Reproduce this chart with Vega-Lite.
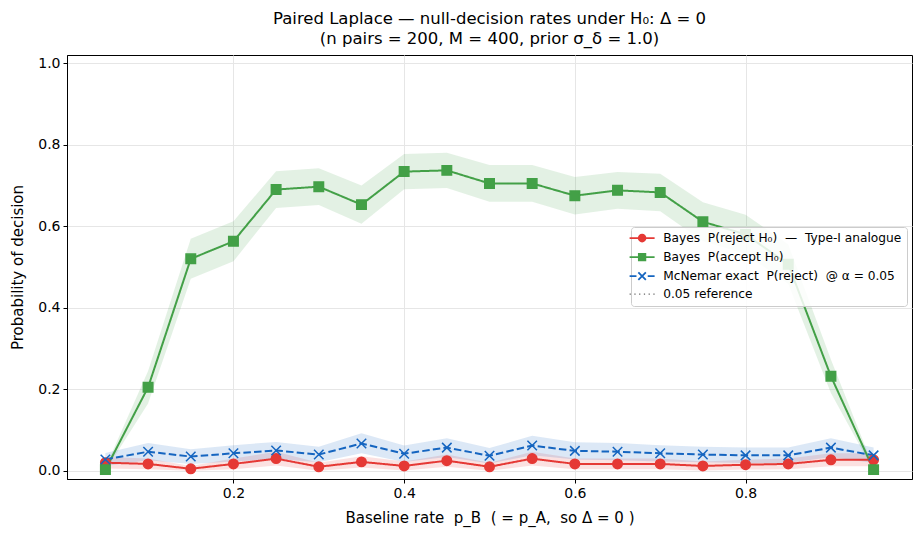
{
  "$schema": "https://vega.github.io/schema/vega-lite/v6.json",
  "width": 845,
  "height": 424,
  "autosize": {"type": "none"},
  "padding": {"left": 67, "top": 55, "right": 11, "bottom": 59},
  "background": "white",
  "title": {
    "text": ["Paired Laplace — null-decision rates under H₀: Δ = 0", "(n pairs = 200, M = 400, prior σ_δ = 1.0)"],
    "font": "DejaVu Sans",
    "fontSize": 16.5,
    "fontWeight": "normal",
    "color": "black",
    "lineHeight": 20,
    "anchor": "middle",
    "frame": "group",
    "offset": 8
  },
  "config": {
    "view": {"stroke": "black", "strokeWidth": 1},
    "axis": {
      "labelFont": "DejaVu Sans",
      "labelFontSize": 14,
      "labelColor": "black",
      "titleFont": "DejaVu Sans",
      "titleFontSize": 15,
      "titleFontWeight": "normal",
      "titleColor": "black",
      "tickColor": "black",
      "tickSize": 4,
      "tickWidth": 1,
      "labelPadding": 3,
      "domainColor": "black",
      "domainWidth": 1,
      "gridColor": "#e6e6e6",
      "gridWidth": 1
    }
  },
  "data": {
    "values": [
      {"p": 0.05, "s": "rej", "rate": 0.020, "lo": 0.006, "hi": 0.034},
      {"p": 0.10, "s": "rej", "rate": 0.017, "lo": 0.004, "hi": 0.030},
      {"p": 0.15, "s": "rej", "rate": 0.005, "lo": 0.000, "hi": 0.012},
      {"p": 0.20, "s": "rej", "rate": 0.017, "lo": 0.004, "hi": 0.030},
      {"p": 0.25, "s": "rej", "rate": 0.030, "lo": 0.013, "hi": 0.047},
      {"p": 0.30, "s": "rej", "rate": 0.010, "lo": 0.000, "hi": 0.020},
      {"p": 0.35, "s": "rej", "rate": 0.022, "lo": 0.008, "hi": 0.036},
      {"p": 0.40, "s": "rej", "rate": 0.012, "lo": 0.001, "hi": 0.023},
      {"p": 0.45, "s": "rej", "rate": 0.025, "lo": 0.010, "hi": 0.040},
      {"p": 0.50, "s": "rej", "rate": 0.010, "lo": 0.000, "hi": 0.020},
      {"p": 0.55, "s": "rej", "rate": 0.030, "lo": 0.013, "hi": 0.047},
      {"p": 0.60, "s": "rej", "rate": 0.017, "lo": 0.004, "hi": 0.030},
      {"p": 0.65, "s": "rej", "rate": 0.017, "lo": 0.004, "hi": 0.030},
      {"p": 0.70, "s": "rej", "rate": 0.017, "lo": 0.004, "hi": 0.030},
      {"p": 0.75, "s": "rej", "rate": 0.012, "lo": 0.001, "hi": 0.023},
      {"p": 0.80, "s": "rej", "rate": 0.015, "lo": 0.003, "hi": 0.027},
      {"p": 0.85, "s": "rej", "rate": 0.017, "lo": 0.004, "hi": 0.030},
      {"p": 0.90, "s": "rej", "rate": 0.027, "lo": 0.011, "hi": 0.043},
      {"p": 0.95, "s": "rej", "rate": 0.027, "lo": 0.011, "hi": 0.043},
      {"p": 0.05, "s": "acc", "rate": 0.003, "lo": 0.000, "hi": 0.008},
      {"p": 0.10, "s": "acc", "rate": 0.205, "lo": 0.165, "hi": 0.245},
      {"p": 0.15, "s": "acc", "rate": 0.520, "lo": 0.471, "hi": 0.569},
      {"p": 0.20, "s": "acc", "rate": 0.563, "lo": 0.514, "hi": 0.612},
      {"p": 0.25, "s": "acc", "rate": 0.690, "lo": 0.645, "hi": 0.735},
      {"p": 0.30, "s": "acc", "rate": 0.697, "lo": 0.652, "hi": 0.742},
      {"p": 0.35, "s": "acc", "rate": 0.653, "lo": 0.606, "hi": 0.700},
      {"p": 0.40, "s": "acc", "rate": 0.734, "lo": 0.691, "hi": 0.777},
      {"p": 0.45, "s": "acc", "rate": 0.737, "lo": 0.694, "hi": 0.780},
      {"p": 0.50, "s": "acc", "rate": 0.705, "lo": 0.660, "hi": 0.750},
      {"p": 0.55, "s": "acc", "rate": 0.705, "lo": 0.660, "hi": 0.750},
      {"p": 0.60, "s": "acc", "rate": 0.675, "lo": 0.629, "hi": 0.721},
      {"p": 0.65, "s": "acc", "rate": 0.688, "lo": 0.643, "hi": 0.733},
      {"p": 0.70, "s": "acc", "rate": 0.683, "lo": 0.637, "hi": 0.729},
      {"p": 0.75, "s": "acc", "rate": 0.611, "lo": 0.563, "hi": 0.659},
      {"p": 0.80, "s": "acc", "rate": 0.580, "lo": 0.532, "hi": 0.628},
      {"p": 0.85, "s": "acc", "rate": 0.507, "lo": 0.458, "hi": 0.556},
      {"p": 0.90, "s": "acc", "rate": 0.232, "lo": 0.191, "hi": 0.273},
      {"p": 0.95, "s": "acc", "rate": 0.003, "lo": 0.000, "hi": 0.008},
      {"p": 0.05, "s": "mcn", "rate": 0.028, "lo": 0.012, "hi": 0.044},
      {"p": 0.10, "s": "mcn", "rate": 0.047, "lo": 0.026, "hi": 0.068},
      {"p": 0.15, "s": "mcn", "rate": 0.035, "lo": 0.017, "hi": 0.053},
      {"p": 0.20, "s": "mcn", "rate": 0.043, "lo": 0.023, "hi": 0.063},
      {"p": 0.25, "s": "mcn", "rate": 0.050, "lo": 0.029, "hi": 0.071},
      {"p": 0.30, "s": "mcn", "rate": 0.040, "lo": 0.021, "hi": 0.059},
      {"p": 0.35, "s": "mcn", "rate": 0.067, "lo": 0.043, "hi": 0.092},
      {"p": 0.40, "s": "mcn", "rate": 0.042, "lo": 0.022, "hi": 0.062},
      {"p": 0.45, "s": "mcn", "rate": 0.057, "lo": 0.034, "hi": 0.080},
      {"p": 0.50, "s": "mcn", "rate": 0.037, "lo": 0.018, "hi": 0.056},
      {"p": 0.55, "s": "mcn", "rate": 0.062, "lo": 0.038, "hi": 0.086},
      {"p": 0.60, "s": "mcn", "rate": 0.049, "lo": 0.028, "hi": 0.070},
      {"p": 0.65, "s": "mcn", "rate": 0.047, "lo": 0.026, "hi": 0.068},
      {"p": 0.70, "s": "mcn", "rate": 0.043, "lo": 0.023, "hi": 0.063},
      {"p": 0.75, "s": "mcn", "rate": 0.040, "lo": 0.021, "hi": 0.059},
      {"p": 0.80, "s": "mcn", "rate": 0.038, "lo": 0.019, "hi": 0.057},
      {"p": 0.85, "s": "mcn", "rate": 0.038, "lo": 0.019, "hi": 0.057},
      {"p": 0.90, "s": "mcn", "rate": 0.057, "lo": 0.034, "hi": 0.080},
      {"p": 0.95, "s": "mcn", "rate": 0.038, "lo": 0.019, "hi": 0.057}
    ]
  },
  "encoding": {
    "x": {
      "field": "p",
      "type": "quantitative",
      "scale": {"domain": [0.005, 0.995], "nice": false, "zero": false},
      "axis": {"values": [0.2, 0.4, 0.6, 0.8], "format": ".1f", "title": "Baseline rate \u00a0p_B \u00a0( = p_A, \u00a0so Δ = 0 )", "titlePadding": 10, "grid": true}
    }
  },
  "layer": [
    {
      "mark": {"type": "area", "fillOpacity": 0.15},
      "encoding": {
        "y": {
          "field": "lo",
          "type": "quantitative",
          "scale": {"domain": [-0.02, 1.02], "nice": false, "zero": false},
          "axis": {"values": [0, 0.2, 0.4, 0.6, 0.8, 1.0], "format": ".1f", "title": "Probability of decision", "titlePadding": 12, "grid": true}
        },
        "y2": {"field": "hi"},
        "color": {
          "field": "s",
          "type": "nominal",
          "scale": {"domain": ["rej", "acc", "mcn", "ref"], "range": ["#e53935", "#43a047", "#1565c0", "#666666"]},
          "legend": {
            "title": null,
            "orient": "none",
            "legendX": 564,
            "legendY": 172,
            "padding": 5,
            "fillColor": "rgba(255,255,255,0.85)",
            "strokeColor": "#cccccc",
            "cornerRadius": 3,
            "symbolSize": 625,
            "rowPadding": 4,
            "labelFont": "DejaVu Sans",
            "labelFontSize": 12.2,
            "labelColor": "black",
            "labelOffset": 15,
            "labelLimit": 400,
            "labelExpr": "datum.value === 'rej' ? 'Bayes \u00a0P(reject H₀) \u00a0— \u00a0Type-I analogue' : datum.value === 'acc' ? 'Bayes \u00a0P(accept H₀)' : datum.value === 'mcn' ? 'McNemar exact \u00a0P(reject) \u00a0@ α = 0.05' : '0.05 reference'",
            "encode": {
              "symbols": {
                "update": {
                  "size": {"value": 625},
                  "shape": {"signal": "datum.value === 'rej' ? 'M-1,0H1M0.27,0A0.27,0.27 0 1,1 -0.27,0A0.27,0.27 0 1,1 0.27,0Z' : datum.value === 'acc' ? 'M-1,0H1M-0.26,-0.26H0.26V0.26H-0.26Z' : datum.value === 'mcn' ? 'M-1,0H-0.45M0.45,0H1M-0.3,-0.3L0.3,0.3M-0.3,0.3L0.3,-0.3' : 'M-1,0H-0.9M-0.62,0H-0.52M-0.24,0H-0.14M0.14,0H0.24M0.52,0H0.62M0.9,0H1'"},
                  "fill": {"signal": "datum.value === 'rej' ? '#e53935' : datum.value === 'acc' ? '#43a047' : 'transparent'"},
                  "stroke": {"signal": "datum.value === 'rej' ? '#e53935' : datum.value === 'acc' ? '#43a047' : datum.value === 'mcn' ? '#1565c0' : '#666666'"},
                  "strokeWidth": {"signal": "datum.value === 'ref' ? 1.3 : 1.8"},
                  "opacity": {"value": 1},
                  "fillOpacity": {"value": 1},
                  "strokeOpacity": {"value": 1},
                  "strokeDash": {"value": []}
                }
              }
            }
          }
        }
      }
    },
    {
      "mark": {"type": "rule", "color": "#666666", "strokeWidth": 1.3, "strokeDash": [1.4, 2.4]},
      "data": {"values": [{"ref": 0.05}]},
      "encoding": {"y": {"field": "ref", "type": "quantitative"}}
    },
    {
      "mark": {"type": "line", "strokeWidth": 2},
      "encoding": {
        "y": {"field": "rate", "type": "quantitative"},
        "color": {"field": "s", "type": "nominal"},
        "strokeDash": {
          "field": "s",
          "type": "nominal",
          "scale": {"domain": ["rej", "acc", "mcn"], "range": [[1, 0], [1, 0], [7.5, 3.2]]},
          "legend": null
        }
      }
    },
    {
      "mark": {"type": "point", "filled": true, "opacity": 1, "size": 90, "strokeWidth": 1.5},
      "encoding": {
        "y": {"field": "rate", "type": "quantitative"},
        "color": {"field": "s", "type": "nominal"},
        "stroke": {
          "field": "s",
          "type": "nominal",
          "scale": {"domain": ["rej", "acc", "mcn"], "range": ["#e53935", "#43a047", "#1565c0"]},
          "legend": null
        },
        "shape": {
          "field": "s",
          "type": "nominal",
          "scale": {"domain": ["rej", "acc", "mcn"], "range": ["circle", "square", "M-1,-1L1,1M-1,1L1,-1"]},
          "legend": null
        }
      }
    }
  ]
}
